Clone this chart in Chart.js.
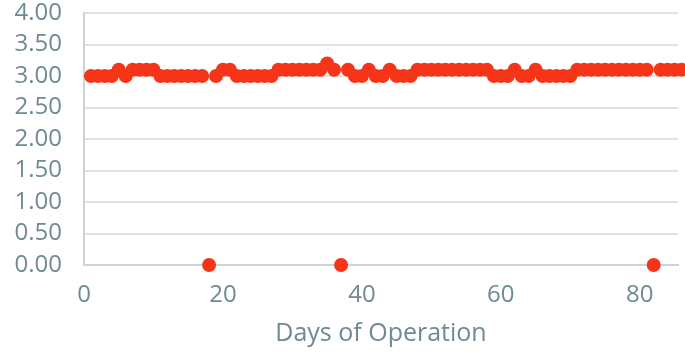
<!DOCTYPE html>
<html>
<head>
<meta charset="utf-8">
<script src="https://cdn.jsdelivr.net/npm/chart.js@4"></script>
<style>
  html, body { margin: 0; padding: 0; background: #fff; }
  #wrap { width: 685px; height: 352px; }
</style>
</head>
<body>
<div id="wrap"><canvas id="grafico"></canvas></div>
<script>
const days = [
  1, 2, 3, 4, 5, 6, 7, 8, 9, 10, 11, 12, 13, 14, 15, 16, 17, 18, 19, 20,
  21, 22, 23, 24, 25, 26, 27, 28, 29, 30, 31, 32, 33, 34, 35, 36, 37, 38, 39, 40,
  41, 42, 43, 44, 45, 46, 47, 48, 49, 50, 51, 52, 53, 54, 55, 56, 57, 58, 59, 60,
  61, 62, 63, 64, 65, 66, 67, 68, 69, 70, 71, 72, 73, 74, 75, 76, 77, 78, 79, 80,
  81, 82, 83, 84, 85, 86
];
const values = [
  3.0, 3.0, 3.0, 3.0, 3.1, 3.0, 3.1, 3.1, 3.1, 3.1, 3.0, 3.0, 3.0, 3.0, 3.0, 3.0, 3.0, 0, 3.0, 3.1,
  3.1, 3.0, 3.0, 3.0, 3.0, 3.0, 3.0, 3.1, 3.1, 3.1, 3.1, 3.1, 3.1, 3.1, 3.2, 3.1, 0, 3.1, 3.0, 3.0,
  3.1, 3.0, 3.0, 3.1, 3.0, 3.0, 3.0, 3.1, 3.1, 3.1, 3.1, 3.1, 3.1, 3.1, 3.1, 3.1, 3.1, 3.1, 3.0, 3.0,
  3.0, 3.1, 3.0, 3.0, 3.1, 3.0, 3.0, 3.0, 3.0, 3.0, 3.1, 3.1, 3.1, 3.1, 3.1, 3.1, 3.1, 3.1, 3.1, 3.1,
  3.1, 0, 3.1, 3.1, 3.1, 3.1
];
const xTitle = "Days of Operation";

const textColor = "#6e8b93";
const font = { family: "'Open Sans'", size: 24 };

let ctx = document.getElementById("grafico").getContext("2d");
let myChart = new Chart(ctx, {
  type: "scatter",
  data: {
    datasets: [
      {
        data: days.map((d, i) => ({ x: d, y: values[i] })),
        backgroundColor: "#f63418",
        borderWidth: 0,
        pointRadius: 7,
        pointHoverRadius: 7,
        clip: false,
      },
    ],
  },
  options: {
    responsive: true,
    maintainAspectRatio: false,
    animation: false,
    layout: { padding: 0 },
    plugins: { legend: { display: false }, tooltip: { enabled: false } },
    scales: {
      x: {
        type: "linear",
        min: 0,
        max: 85.5,
        afterFit: (scale) => {
          scale.height = 87;
          scale.paddingLeft = 0;
          scale.paddingRight = 0;
        },
        ticks: {
          stepSize: 20,
          includeBounds: false,
          color: textColor,
          font: font,
          padding: 16,
          maxRotation: 0,
        },
        grid: { drawOnChartArea: false, drawTicks: false },
        border: { display: true, color: "#cbd5d8", width: 2 },
        title: {
          display: true,
          text: xTitle,
          color: textColor,
          font: { family: "'Open Sans'", size: 25 },
          padding: { top: 0, bottom: 3 },
        },
      },
      y: {
        min: 0,
        max: 4,
        afterFit: (scale) => {
          scale.width = 84;
          scale.paddingTop = 13;
          scale.paddingBottom = 0;
        },
        ticks: {
          stepSize: 0.5,
          autoSkip: false,
          color: textColor,
          font: font,
          padding: 22,
          callback: (v) => v.toFixed(2),
        },
        grid: { color: "#dde3e5", lineWidth: 2, drawTicks: false },
        border: { display: true, color: "#cbd5d8", width: 2 },
      },
    },
  },
});
</script>
</body>
</html>
